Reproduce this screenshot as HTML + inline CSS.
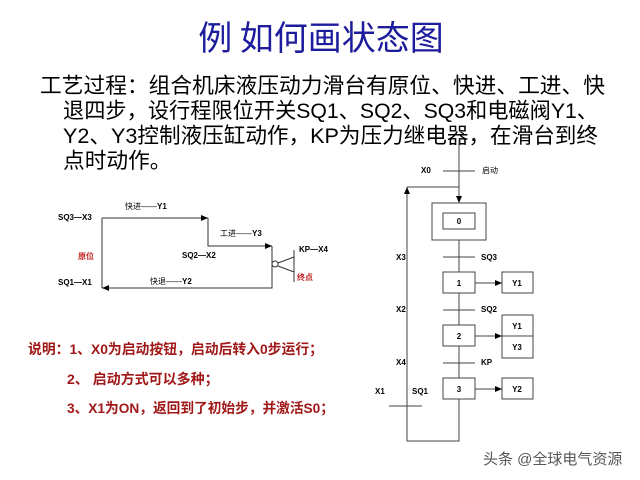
<!DOCTYPE html>
<html><head><meta charset="utf-8"><style>
html,body{margin:0;padding:0;background:#fff;}
svg{display:block;}
.t{font-family:"Liberation Sans","Noto Sans CJK SC",sans-serif;}
</style></head><body>
<svg width="640" height="480" viewBox="0 0 640 480" xmlns="http://www.w3.org/2000/svg" class="t">
<defs><marker id="a" markerWidth="8" markerHeight="8" refX="7" refY="4" orient="auto" markerUnits="userSpaceOnUse"><path d="M0,1 L7,4 L0,7 z" fill="#000"/></marker></defs>
<text x="321" y="50" text-anchor="middle" font-size="34" fill="#1c1c9c" font-family="'Noto Sans CJK SC',sans-serif">例 如何画状态图</text>
<g font-size="21.7" fill="#000">
<text x="40" y="93" textLength="565" lengthAdjust="spacingAndGlyphs">工艺过程：组合机床液压动力滑台有原位、快进、工进、快</text>
<text x="63" y="118" textLength="535" lengthAdjust="spacingAndGlyphs">退四步，设行程限位开关SQ1、SQ2、SQ3和电磁阀Y1、</text>
<text x="63" y="143" textLength="535" lengthAdjust="spacingAndGlyphs">Y2、Y3控制液压缸动作，KP为压力继电器，在滑台到终</text>
<text x="63" y="168">点时动作。</text>
</g>
<!-- left diagram -->
<g stroke="#333" stroke-width="1" fill="none">
<path d="M102,218 H208" marker-end="url(#a)"/>
<path d="M208,218 V246 H272" marker-end="url(#a)"/>
<path d="M272,246 V288 H102" marker-end="url(#a)"/>
<path d="M102,218 V288"/>
<circle cx="275" cy="264" r="3"/>
<path d="M278,263 L294,257 M278,266 L294,272 M294,250 V282"/>
</g>
<g font-size="8" fill="#000" font-weight="bold">
<text x="58" y="220">SQ3—X3</text>
<text x="125" y="209" font-weight="normal">快进——<tspan font-weight="bold">Y1</tspan></text>
<text x="220" y="236" font-weight="normal">工进——<tspan font-weight="bold">Y3</tspan></text>
<text x="182" y="258">SQ2—X2</text>
<text x="78" y="259" fill="#c02020">原位</text>
<text x="58" y="285">SQ1—X1</text>
<text x="150" y="284" font-weight="normal">快退——<tspan font-weight="bold">Y2</tspan></text>
<text x="299" y="252">KP—X4</text>
<text x="297" y="280" fill="#c02020">终点</text>
</g>
<!-- right diagram -->
<g stroke="#444" stroke-width="1" fill="none">
<path d="M459,140 V441 H407 V187"/>
<path d="M407,194 V187" marker-end="url(#a)"/>
<path d="M407,187 H459"/>
<path d="M459,190 V203" marker-end="url(#a)"/>
<path d="M443,171 H475 M443,257 H475 M443,310 H475 M443,363 H475 M389,406 H422"/>
<rect x="432" y="203" width="54" height="37" fill="#fff"/>
<rect x="443" y="213" width="32" height="16" fill="#fff"/>
<rect x="443" y="272" width="32" height="21" fill="#fff"/>
<rect x="443" y="325" width="32" height="21" fill="#fff"/>
<rect x="443" y="378" width="32" height="21" fill="#fff"/>
<rect x="502" y="272" width="31" height="21"/>
<rect x="502" y="315" width="31" height="43"/>
<path d="M502,336 H533"/>
<rect x="502" y="378" width="31" height="21"/>
<path d="M475,283 H502" marker-end="url(#a)"/>
<path d="M475,336 H502" marker-end="url(#a)"/>
<path d="M475,389 H502" marker-end="url(#a)"/>
</g>
<g font-size="8" font-weight="bold" fill="#000">
<text x="421" y="173">X0</text>
<text x="482" y="173" font-weight="normal">启动</text>
<text x="459" y="224" text-anchor="middle">0</text>
<text x="396" y="260">X3</text><text x="481" y="260">SQ3</text>
<text x="459" y="286" text-anchor="middle">1</text>
<text x="517" y="286" text-anchor="middle">Y1</text>
<text x="396" y="312">X2</text><text x="481" y="312">SQ2</text>
<text x="459" y="339" text-anchor="middle">2</text>
<text x="517" y="329" text-anchor="middle">Y1</text>
<text x="517" y="350" text-anchor="middle">Y3</text>
<text x="396" y="365">X4</text><text x="481" y="365">KP</text>
<text x="459" y="392" text-anchor="middle">3</text>
<text x="517" y="392" text-anchor="middle">Y2</text>
<text x="375" y="394">X1</text><text x="412" y="394">SQ1</text>
</g>
<g font-size="14" font-weight="bold" fill="#a01818">
<text x="28" y="354" textLength="295" lengthAdjust="spacingAndGlyphs">说明：1、X0为启动按钮，启动后转入0步运行；</text>
<text x="67" y="384">2、 启动方式可以多种；</text>
<text x="67" y="413" textLength="267" lengthAdjust="spacingAndGlyphs">3、X1为ON，返回到了初始步，并激活S0；</text>
</g>
<text x="483" y="464" font-size="15" fill="#555">头条 @全球电气资源</text>
</svg>
</body></html>
